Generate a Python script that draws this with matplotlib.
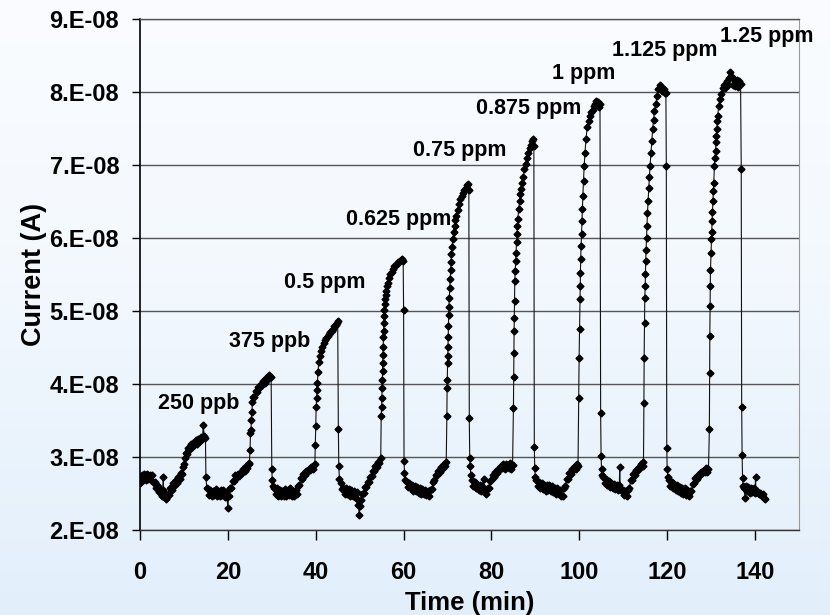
import numpy as np
import matplotlib
matplotlib.use("Agg")
import matplotlib.pyplot as plt
from matplotlib.ticker import FuncFormatter, MultipleLocator

plt.rcParams['font.family'] = ['Liberation Sans', 'DejaVu Sans']
plt.rcParams['font.weight'] = 'bold'

# ── data: (time [min], current [1e-8 A]) ─────────────────────────────────────
seg_250ppb = [
    (0.0, 2.64), (0.2, 2.70), (0.4, 2.75), (0.7, 2.68), (1.0, 2.77), (1.3, 2.69), (1.6, 2.77),
    (1.9, 2.70), (2.2, 2.76), (2.5, 2.68), (2.8, 2.75), (3.1, 2.65), (3.4, 2.66), (3.7, 2.57),
    (4.0, 2.60), (4.3, 2.52), (4.6, 2.55), (4.9, 2.47), (5.2, 2.55), (5.3, 2.73), (5.4, 2.49),
    (5.7, 2.50), (6.0, 2.42), (6.3, 2.49), (6.6, 2.48), (6.9, 2.58), (7.2, 2.55), (7.5, 2.64),
    (7.8, 2.60), (8.1, 2.68), (8.4, 2.65), (8.7, 2.73), (9.0, 2.70), (9.3, 2.78), (9.6, 2.77),
    (9.9, 2.86), (10.1, 2.90), (10.3, 2.98), (10.5, 3.06), (10.7, 3.04), (10.9, 3.13), (11.2, 3.10),
    (11.5, 3.18), (11.8, 3.14), (12.1, 3.19), (12.4, 3.16), (12.7, 3.23), (13.0, 3.18), (13.3, 3.25),
    (13.6, 3.22), (13.9, 3.27), (14.2, 3.24), (14.4, 3.44), (14.6, 3.29), (14.9, 3.26), (15.0, 2.72),
    (15.2, 2.58),
]
seg_375ppb = [
    (15.4, 2.56), (15.7, 2.48), (16.0, 2.55), (16.3, 2.47), (16.6, 2.54), (16.9, 2.48), (17.2, 2.56),
    (17.5, 2.47), (17.8, 2.53), (18.1, 2.46), (18.4, 2.55), (18.7, 2.48), (19.0, 2.55), (19.3, 2.45),
    (19.6, 2.52), (19.8, 2.45), (20.0, 2.30), (20.2, 2.47), (20.5, 2.57), (20.8, 2.58), (21.1, 2.67),
    (21.4, 2.67), (21.7, 2.75), (22.0, 2.72), (22.3, 2.77), (22.6, 2.74), (22.9, 2.80), (23.2, 2.78),
    (23.5, 2.84), (23.8, 2.81), (24.1, 2.87), (24.4, 2.85), (24.7, 2.91), (24.9, 2.92), (25.05, 3.10),
    (25.15, 3.33), (25.25, 3.37), (25.35, 3.50), (25.45, 3.62), (25.6, 3.75), (25.8, 3.82), (26.0, 3.82),
    (26.3, 3.90), (26.6, 3.89), (26.9, 3.96), (27.2, 3.94), (27.5, 4.00), (27.8, 3.98), (28.1, 4.04),
    (28.4, 4.02), (28.7, 4.08), (29.0, 4.06), (29.3, 4.12), (29.6, 4.09), (29.85, 4.10), (30.0, 2.83),
    (30.1, 2.69), (30.3, 2.60),
]
seg_500ppb = [
    (30.6, 2.57), (30.9, 2.49), (31.2, 2.57), (31.5, 2.47), (31.8, 2.55), (32.1, 2.47), (32.4, 2.54),
    (32.7, 2.47), (33.0, 2.56), (33.3, 2.46), (33.6, 2.55), (33.9, 2.48), (34.2, 2.57), (34.5, 2.47),
    (34.8, 2.54), (35.1, 2.47), (35.4, 2.55), (35.7, 2.49), (36.0, 2.60), (36.3, 2.62), (36.6, 2.71),
    (36.9, 2.70), (37.2, 2.77), (37.5, 2.75), (37.8, 2.81), (38.1, 2.79), (38.4, 2.84), (38.7, 2.82),
    (39.0, 2.86), (39.3, 2.83), (39.6, 2.89), (39.8, 2.90), (39.9, 3.17), (40.0, 3.43), (40.1, 3.69),
    (40.2, 3.81), (40.3, 3.92), (40.4, 4.02), (40.5, 4.16), (40.7, 4.30), (40.9, 4.38), (41.2, 4.45),
    (41.5, 4.51), (41.8, 4.56), (42.1, 4.60), (42.4, 4.63), (42.7, 4.66), (43.0, 4.68), (43.3, 4.71),
    (43.6, 4.73), (43.9, 4.76), (44.2, 4.79), (44.5, 4.81), (44.8, 4.84), (45.0, 4.86), (45.15, 3.39),
    (45.25, 2.87), (45.4, 2.70),
]
seg_625ppb = [
    (45.7, 2.64), (46.0, 2.56), (46.3, 2.58), (46.6, 2.50), (46.9, 2.58), (47.2, 2.49), (47.5, 2.56),
    (47.8, 2.47), (48.1, 2.55), (48.4, 2.46), (48.7, 2.54), (49.0, 2.45), (49.3, 2.52), (49.5, 2.42),
    (49.7, 2.34), (49.9, 2.21), (50.1, 2.33), (50.3, 2.41), (50.6, 2.50), (50.9, 2.51), (51.2, 2.59),
    (51.5, 2.59), (51.8, 2.66), (52.1, 2.66), (52.4, 2.73), (52.7, 2.74), (53.0, 2.81), (53.3, 2.81),
    (53.6, 2.87), (53.9, 2.86), (54.2, 2.93), (54.5, 2.92), (54.8, 2.98), (54.9, 3.56), (55.0, 3.69),
    (55.05, 3.81), (55.1, 3.95), (55.15, 4.06), (55.2, 4.18), (55.25, 4.29), (55.3, 4.40), (55.35, 4.50),
    (55.4, 4.64), (55.45, 4.73), (55.5, 4.84), (55.55, 4.93), (55.6, 5.02), (55.7, 5.10), (55.8, 5.16),
    (55.9, 5.22), (56.0, 5.28), (56.2, 5.34), (56.4, 5.39), (56.7, 5.45), (57.0, 5.50), (57.3, 5.54),
    (57.6, 5.58), (57.9, 5.61), (58.2, 5.63), (58.5, 5.65), (58.8, 5.67), (59.1, 5.69), (59.4, 5.70),
    (59.7, 5.71), (59.9, 5.69), (60.0, 5.02), (60.1, 2.94), (60.2, 2.78), (60.4, 2.69),
]
seg_750ppb = [
    (60.7, 2.66), (61.0, 2.59), (61.3, 2.65), (61.6, 2.57), (61.9, 2.62), (62.2, 2.54), (62.5, 2.60),
    (62.8, 2.53), (63.1, 2.59), (63.4, 2.51), (63.7, 2.58), (64.0, 2.50), (64.3, 2.56), (64.6, 2.49),
    (64.9, 2.55), (65.2, 2.48), (65.5, 2.54), (65.8, 2.47), (66.1, 2.55), (66.4, 2.56), (66.7, 2.66),
    (67.0, 2.68), (67.3, 2.76), (67.6, 2.75), (67.9, 2.81), (68.2, 2.80), (68.5, 2.86), (68.8, 2.84),
    (69.1, 2.90), (69.4, 2.88), (69.7, 2.93), (69.85, 3.56), (69.9, 3.94), (69.95, 4.05), (70.0, 4.29),
    (70.05, 4.38), (70.1, 4.50), (70.15, 4.64), (70.2, 4.80), (70.25, 4.95), (70.3, 5.05), (70.4, 5.18),
    (70.5, 5.31), (70.6, 5.44), (70.7, 5.56), (70.8, 5.67), (70.9, 5.78), (71.0, 5.88), (71.2, 5.98),
    (71.4, 6.08), (71.6, 6.17), (71.8, 6.24), (72.0, 6.30), (72.3, 6.38), (72.6, 6.46), (72.9, 6.53),
    (73.2, 6.58), (73.5, 6.62), (73.8, 6.66), (74.1, 6.69), (74.4, 6.72), (74.7, 6.74), (74.85, 6.66),
    (74.95, 3.54), (75.05, 2.99), (75.15, 2.87), (75.3, 2.75),
]
seg_875ppb = [
    (75.6, 2.68), (75.9, 2.60), (76.2, 2.66), (76.5, 2.57), (76.8, 2.63), (77.1, 2.55), (77.4, 2.61),
    (77.7, 2.53), (77.9, 2.60), (78.2, 2.70), (78.5, 2.54), (78.8, 2.50), (79.1, 2.57), (79.4, 2.58),
    (79.7, 2.67), (80.0, 2.68), (80.3, 2.75), (80.6, 2.73), (80.9, 2.80), (81.2, 2.78), (81.5, 2.84),
    (81.8, 2.82), (82.1, 2.88), (82.4, 2.85), (82.7, 2.90), (83.0, 2.84), (83.3, 2.91), (83.6, 2.88),
    (83.9, 2.85), (84.2, 2.92), (84.5, 2.84), (84.8, 2.89), (85.0, 3.67), (85.05, 4.09), (85.1, 4.43),
    (85.15, 4.72), (85.2, 4.91), (85.25, 5.14), (85.3, 5.41), (85.4, 5.55), (85.5, 5.68), (85.6, 5.80),
    (85.7, 5.94), (85.8, 6.05), (85.9, 6.16), (86.0, 6.26), (86.2, 6.40), (86.4, 6.50), (86.6, 6.60),
    (86.8, 6.67), (87.0, 6.76), (87.2, 6.84), (87.5, 6.94), (87.8, 7.02), (88.1, 7.10), (88.4, 7.16),
    (88.7, 7.23), (89.0, 7.28), (89.3, 7.33), (89.5, 7.35), (89.65, 7.26), (89.75, 3.14), (89.85, 2.85),
    (89.95, 2.73),
]
seg_1ppm = [
    (90.2, 2.68), (90.5, 2.60), (90.8, 2.66), (91.1, 2.58), (91.4, 2.64), (91.7, 2.56), (92.0, 2.62),
    (92.3, 2.54), (92.6, 2.61), (92.9, 2.55), (93.2, 2.62), (93.5, 2.53), (93.8, 2.60), (94.1, 2.52),
    (94.4, 2.58), (94.7, 2.50), (95.0, 2.57), (95.3, 2.49), (95.6, 2.55), (95.9, 2.47), (96.2, 2.47),
    (96.5, 2.57), (96.8, 2.60), (97.1, 2.70), (97.4, 2.70), (97.7, 2.78), (98.0, 2.77), (98.3, 2.84),
    (98.6, 2.82), (98.9, 2.88), (99.2, 2.83), (99.5, 2.90), (99.7, 2.88), (99.85, 3.81), (99.95, 4.36),
    (100.05, 4.75), (100.15, 5.16), (100.2, 5.34), (100.25, 5.52), (100.3, 5.71), (100.4, 5.89),
    (100.5, 6.05), (100.6, 6.23), (100.7, 6.40), (100.8, 6.58), (100.95, 6.78), (101.1, 6.99),
    (101.3, 7.17), (101.5, 7.35), (101.8, 7.52), (102.1, 7.60), (102.4, 7.67), (102.7, 7.72),
    (103.0, 7.76), (103.3, 7.81), (103.6, 7.84), (103.9, 7.88), (104.2, 7.86), (104.5, 7.80),
    (104.7, 7.84), (104.85, 3.60), (104.95, 3.01), (105.05, 2.83), (105.2, 2.75),
]
seg_1125ppb = [
    (105.5, 2.72), (105.8, 2.64), (106.1, 2.70), (106.4, 2.61), (106.7, 2.67), (107.0, 2.59),
    (107.3, 2.65), (107.6, 2.57), (107.9, 2.63), (108.2, 2.56), (108.5, 2.62), (108.8, 2.55),
    (109.1, 2.61), (109.2, 2.86), (109.3, 2.57), (109.6, 2.53), (109.9, 2.55), (110.2, 2.48),
    (110.5, 2.54), (110.8, 2.47), (111.1, 2.55), (111.4, 2.58), (111.7, 2.68), (112.0, 2.69),
    (112.3, 2.77), (112.6, 2.76), (112.9, 2.82), (113.2, 2.81), (113.5, 2.86), (113.8, 2.85),
    (114.1, 2.90), (114.4, 2.88), (114.6, 2.93), (114.7, 3.74), (114.75, 4.36), (114.85, 4.84),
    (114.9, 5.18), (115.0, 5.34), (115.05, 5.51), (115.1, 5.68), (115.2, 5.84), (115.3, 6.00),
    (115.4, 6.17), (115.5, 6.34), (115.65, 6.51), (115.8, 6.68), (115.95, 6.84), (116.1, 6.99),
    (116.3, 7.16), (116.5, 7.33), (116.7, 7.50), (116.9, 7.62), (117.1, 7.74), (117.4, 7.84),
    (117.7, 7.95), (118.0, 8.04), (118.3, 8.10), (118.6, 8.07), (118.9, 8.02), (119.2, 8.04),
    (119.5, 7.98), (119.7, 7.99), (119.8, 6.99), (119.9, 3.12), (120.0, 2.83), (120.15, 2.72),
]
seg_1250ppb = [
    (120.4, 2.68), (120.7, 2.60), (121.0, 2.66), (121.3, 2.57), (121.6, 2.63), (121.9, 2.55),
    (122.2, 2.61), (122.5, 2.53), (122.8, 2.59), (123.1, 2.51), (123.4, 2.58), (123.7, 2.50),
    (124.0, 2.57), (124.3, 2.48), (124.6, 2.55), (124.9, 2.47), (125.2, 2.54), (125.5, 2.54),
    (125.8, 2.63), (126.1, 2.64), (126.4, 2.71), (126.7, 2.70), (127.0, 2.76), (127.3, 2.74),
    (127.6, 2.80), (127.9, 2.78), (128.2, 2.81), (128.5, 2.80), (128.8, 2.85), (129.1, 2.79),
    (129.4, 2.84), (129.6, 3.38), (129.65, 4.15), (129.7, 4.66), (129.76, 5.07), (129.8, 5.34),
    (129.84, 5.56), (129.99, 5.80), (130.07, 5.98), (130.15, 6.08), (130.2, 6.23), (130.3, 6.35),
    (130.4, 6.51), (130.5, 6.65), (130.6, 6.76), (130.75, 6.99), (130.85, 7.10), (131.0, 7.19),
    (131.1, 7.31), (131.2, 7.40), (131.3, 7.49), (131.4, 7.60), (131.5, 7.67), (131.7, 7.81),
    (132.0, 7.90), (132.3, 7.97), (132.6, 8.05), (132.9, 8.10), (133.2, 8.06), (133.5, 8.15),
    (133.8, 8.09), (134.1, 8.19), (134.4, 8.27), (134.6, 8.22), (134.9, 8.10), (135.2, 8.18),
    (135.5, 8.08), (135.8, 8.17), (136.1, 8.07), (136.4, 8.15), (136.7, 8.11), (136.85, 6.95),
    (136.95, 3.69), (137.05, 3.03), (137.15, 2.71), (137.3, 2.60),
]
seg_recovery = [
    (137.5, 2.57), (137.7, 2.44), (137.9, 2.60), (138.2, 2.53), (138.5, 2.59), (138.8, 2.51),
    (139.1, 2.58), (139.4, 2.52), (139.7, 2.57), (140.0, 2.51), (140.1, 2.73), (140.2, 2.52),
    (140.5, 2.53), (140.8, 2.50), (141.1, 2.51), (141.4, 2.48), (141.7, 2.49), (142.0, 2.44),
    (142.2, 2.43),
]

labels = ["250 ppb", "375 ppb", "0.5 ppm", "0.625 ppm", "0.75 ppm",
          "0.875 ppm", "1 ppm", "1.125 ppm", "1.25 ppm"]
label_t = [13.3, 29.4, 42.1, 58.9, 72.8, 88.4, 100.9, 119.5, 142.6]
label_i = [3.73, 4.58, 5.39, 6.25, 7.20, 7.78, 8.25, 8.57, 8.76]

segments = [seg_250ppb, seg_375ppb, seg_500ppb, seg_625ppb, seg_750ppb,
            seg_875ppb, seg_1ppm, seg_1125ppb, seg_1250ppb, seg_recovery]
data = np.array([p for seg in segments for p in seg])
time_min = data[:, 0]
current = data[:, 1] * 1e-8

# ── figure ────────────────────────────────────────────────────────────────────
fig = plt.figure(figsize=(8.3, 6.15), dpi=100)

# light blue vertical gradient behind everything
bg = fig.add_axes([0, 0, 1, 1])
top = np.array([250, 252, 255]) / 255
mid = np.array([244, 249, 254]) / 255
bot = np.array([226, 239, 251]) / 255
s = np.linspace(0, 1, 256)[:, None]
grad = np.where(s < 0.4, top + (mid - top) * (s / 0.4), mid + (bot - mid) * ((s - 0.4) / 0.6))
bg.imshow(grad[:, None, :], aspect='auto', extent=[0, 1, 0, 1])
bg.axis('off')

ax = fig.add_axes([140 / 830, 1 - 530 / 615, 659 / 830, 511 / 615])
ax.set_zorder(1)
ax.patch.set_alpha(0)

ax.plot(time_min, current, color='#111111', lw=0.8, marker='D', ms=3.5,
        mec='black', mfc='black', zorder=3)

ax.set_xlim(0, 150)
ax.set_ylim(2e-8, 9e-8)
ax.set_xticks([0, 20, 40, 60, 80, 100, 120, 140])
ax.yaxis.set_major_locator(MultipleLocator(1e-8))


def sci_fmt(v, pos):
    m, e = f"{v:.0E}".split("E")
    return f"{m}.E{e}"


ax.yaxis.set_major_formatter(FuncFormatter(sci_fmt))
ax.grid(axis='y', color='#555555', lw=1.0)
ax.set_axisbelow(True)

ax.tick_params(axis='y', direction='out', length=6, width=1, pad=9, labelsize=17)
ax.tick_params(axis='x', direction='out', length=7, width=1, pad=15, labelsize=17)
for lab in ax.get_xticklabels() + ax.get_yticklabels():
    lab.set_fontweight('bold')

ax.spines['left'].set_color('black')
ax.spines['left'].set_linewidth(1.2)
ax.spines['bottom'].set_color('#333333')
ax.spines['bottom'].set_linewidth(1.0)
ax.spines['top'].set_color('#555555')
ax.spines['top'].set_linewidth(1.0)
ax.spines['right'].set_color('#999999')
ax.spines['right'].set_linewidth(0.8)

for txt, t, i in zip(labels, label_t, label_i):
    ax.text(t, i * 1e-8, txt, ha='center', va='center', fontsize=15.5,
            fontweight='bold', clip_on=False, zorder=4)

fig.text(34 / 830, 1 - 274.5 / 615, "Current (A)", rotation=90, ha='center',
         va='center', fontsize=19.5, fontweight='bold')
fig.text(470 / 830, 1 - 610 / 615, "Time (min)", ha='center', va='baseline',
         fontsize=18.5, fontweight='bold')

fig.savefig("out.png", dpi=100)
